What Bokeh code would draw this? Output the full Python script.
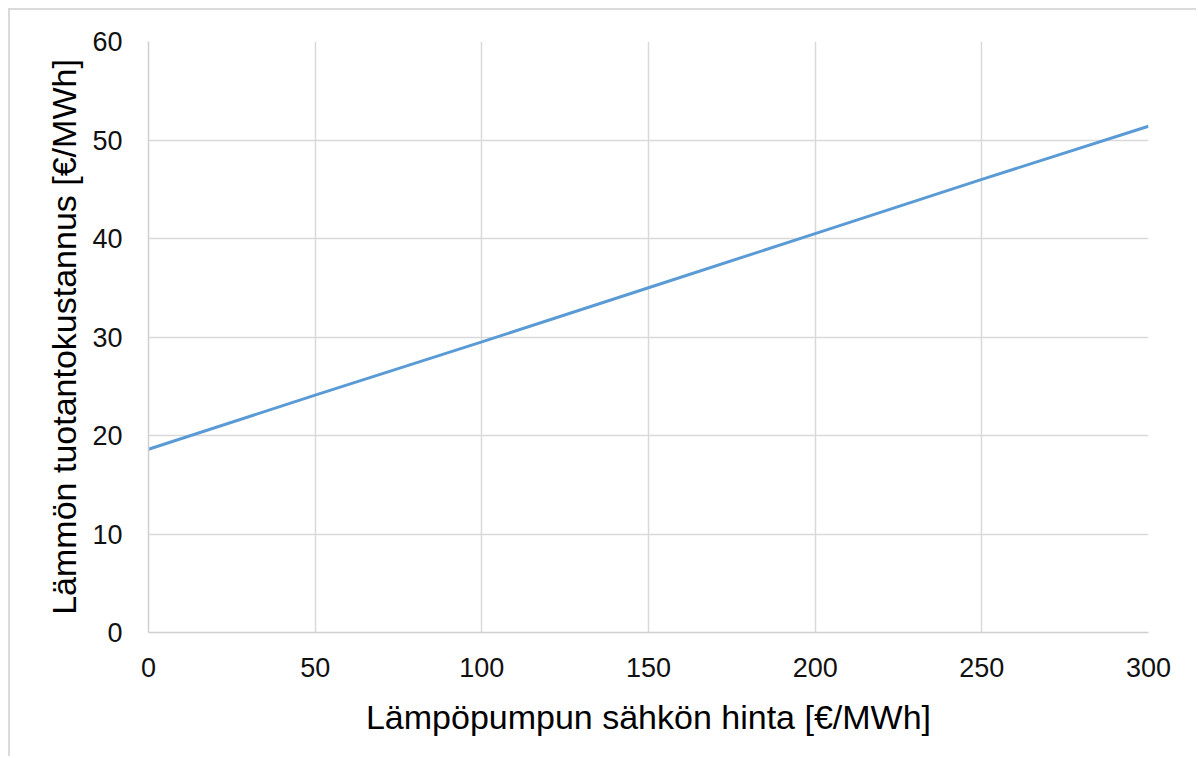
from bokeh.plotting import figure
from bokeh.models import Range1d, FixedTicker
from bokeh.embed import file_html
from bokeh.resources import INLINE

# Data
electricity_price = [0, 50, 100, 150, 200, 250, 300]
heat_cost = [18.6, 24.1, 29.5, 35.0, 40.5, 46.0, 51.4]
x_ticks = [0, 50, 100, 150, 200, 250, 300]
y_ticks = [0, 10, 20, 30, 40, 50, 60]

x_label = "Lämpöpumpun sähkön hinta [€/MWh]"
y_label = "Lämmön tuotantokustannus [€/MWh]"

FONT = "Liberation Sans"
GRID = "#d9d9d9"

p = figure(width=1188, height=748, output_backend="svg", toolbar_location=None,
           x_range=Range1d(0, 300), y_range=Range1d(0, 60),
           min_border_left=138, min_border_right=50,
           min_border_top=31, min_border_bottom=126)
p.styles = {"border-top": "2px solid #dadada", "border-left": "2px solid #dadada",
            "margin-top": "8px", "margin-left": "8px"}
p.outline_line_color = None
p.background_fill_color = "white"
p.border_fill_color = "white"

p.line(electricity_price, heat_cost, line_color="#5b9bd5", line_width=3)

for ax, ticks in ((p.xaxis, x_ticks), (p.yaxis, y_ticks)):
    ax.ticker = FixedTicker(ticks=ticks)
    ax.axis_line_color = "#d0d0d0"
    ax.axis_line_width = 1.5
    ax.major_tick_line_color = None
    ax.minor_tick_line_color = None
    ax.major_label_text_font = FONT
    ax.major_label_text_font_size = "27px"
    ax.major_label_text_color = "#111111"
    ax.axis_label_text_font = FONT
    ax.axis_label_text_font_size = "34px"
    ax.axis_label_text_font_style = "normal"
    ax.axis_label_text_color = "#000000"

p.xaxis.axis_label = x_label
p.yaxis.axis_label = y_label
p.xaxis.major_label_standoff = 19
p.yaxis.major_label_standoff = 20
p.xaxis.axis_label_standoff = 18
p.yaxis.axis_label_standoff = 6

for g in (p.xgrid, p.ygrid):
    g.grid_line_color = GRID
    g.grid_line_width = 1.5

open("out.html", "w").write(file_html(p, INLINE))
